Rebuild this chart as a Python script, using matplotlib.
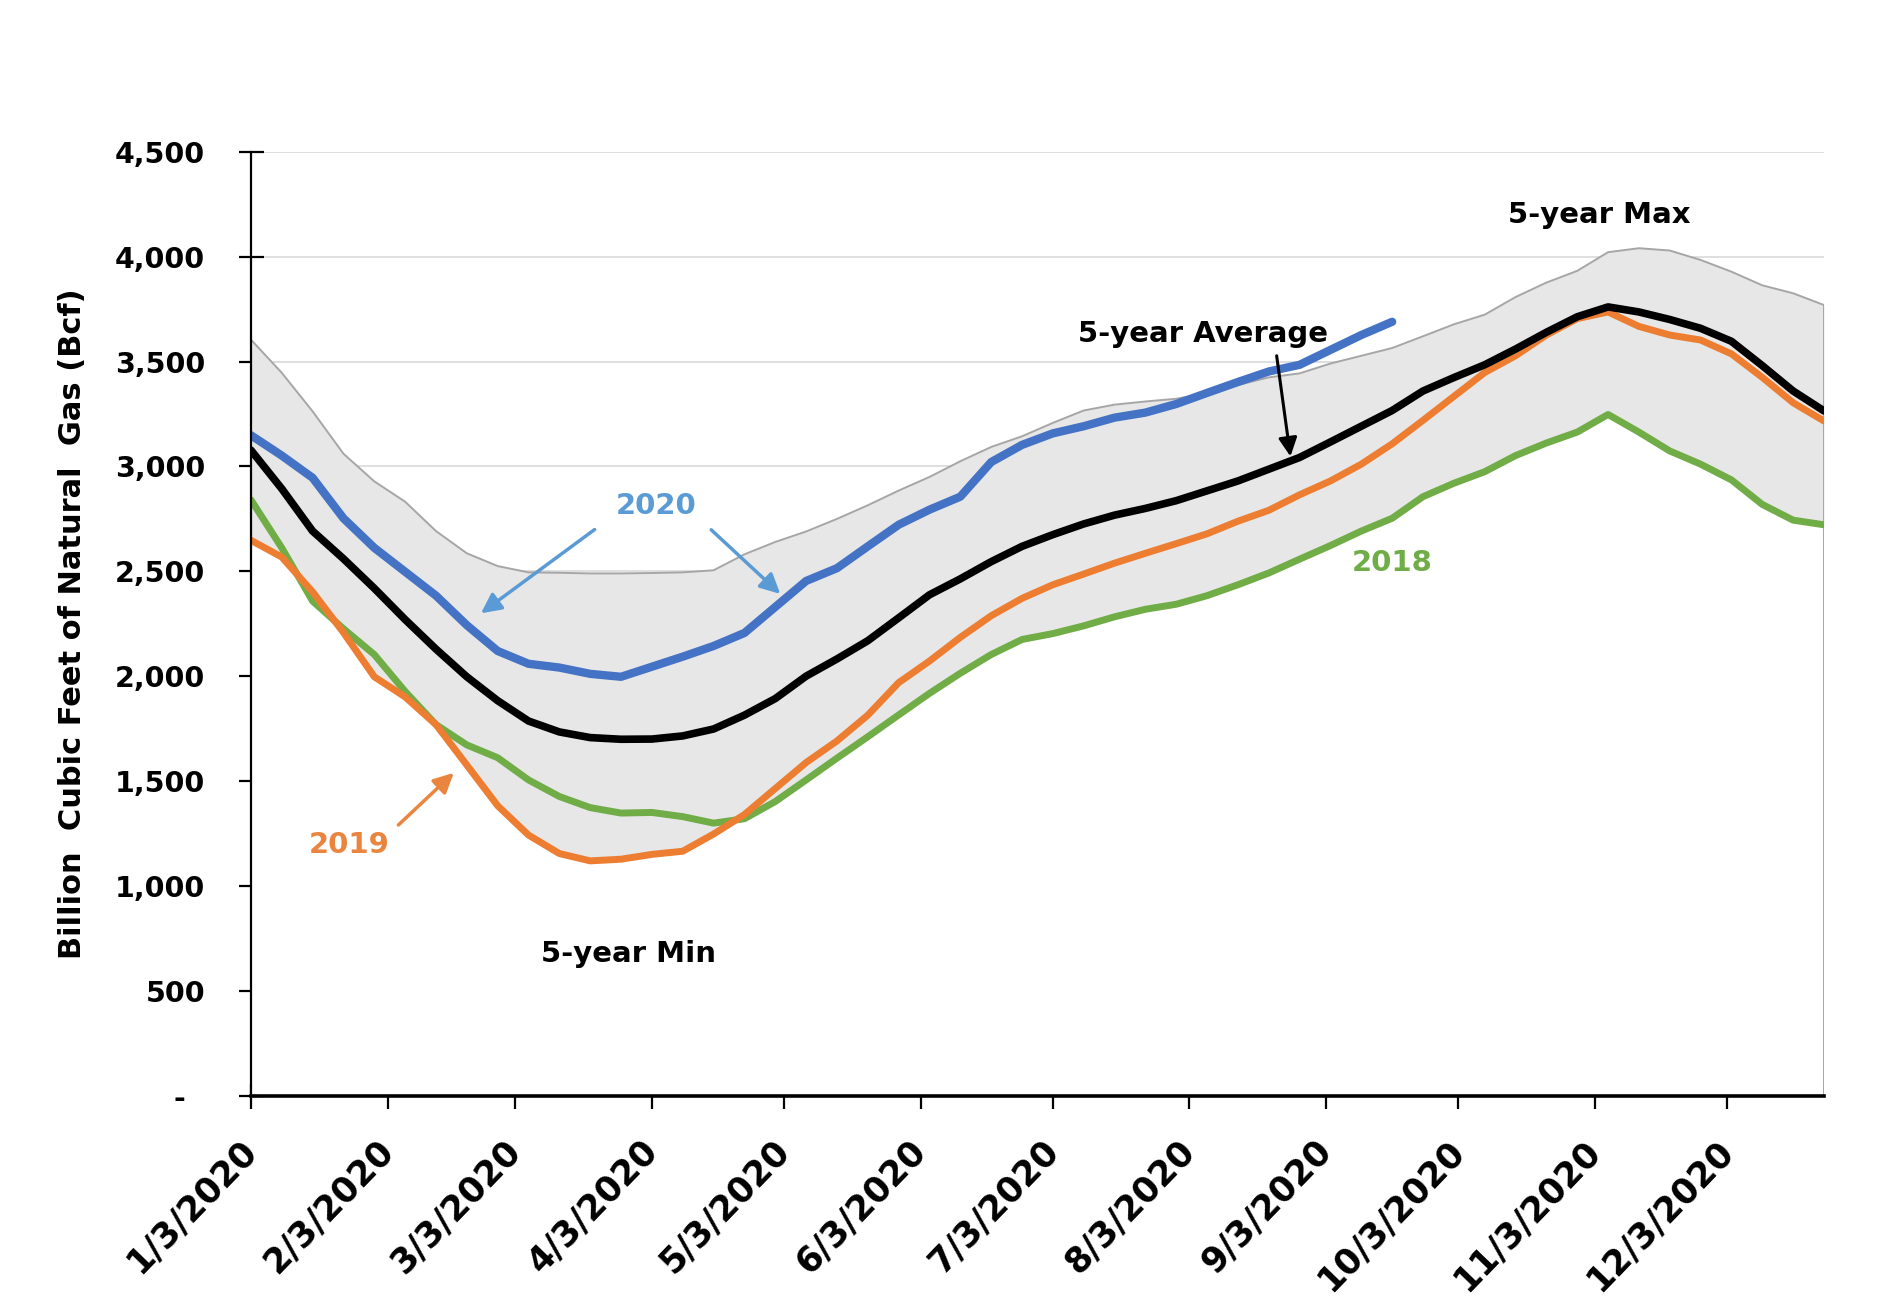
import matplotlib
matplotlib.use('Agg')

import numpy as np
import pandas as pd
import matplotlib.pyplot as plt
import matplotlib.dates as mdates
from matplotlib.ticker import FuncFormatter

# weekly storage, Bcf (week ending dates from 1/3/2020)
dates = pd.date_range('2020-01-03', periods=52, freq='7D')

max_5yr = [3605, 3447, 3263, 3061, 2929, 2832, 2692, 2586, 2525, 2495, 2493, 2490, 2490,
           2492, 2495, 2505, 2581, 2640, 2690, 2750, 2815, 2885, 2950, 3025, 3093, 3144,
           3208, 3267, 3295, 3310, 3323, 3351, 3388, 3425, 3444, 3491, 3528, 3565, 3621,
           3678, 3724, 3808, 3877, 3933, 4022, 4041, 4030, 3985, 3929, 3864, 3826, 3770]

min_5yr = [2648, 2568, 2358, 2208, 1997, 1901, 1769, 1576, 1382, 1242, 1154, 1119, 1127,
           1150, 1165, 1247, 1320, 1402, 1505, 1609, 1711, 1815, 1918, 2014, 2103, 2175,
           2203, 2240, 2283, 2319, 2343, 2384, 2436, 2492, 2558, 2623, 2692, 2753, 2856,
           2920, 2975, 3052, 3112, 3164, 3248, 3164, 3074, 3011, 2936, 2819, 2744, 2722]

avg_5yr = [3078, 2894, 2692, 2560, 2419, 2270, 2129, 1997, 1883, 1786, 1734, 1707, 1699,
           1700, 1715, 1748, 1814, 1893, 2000, 2082, 2169, 2278, 2388, 2464, 2546, 2619,
           2675, 2726, 2768, 2800, 2837, 2884, 2931, 2987, 3043, 3117, 3192, 3267, 3360,
           3424, 3485, 3560, 3640, 3714, 3761, 3737, 3701, 3659, 3597, 3481, 3360, 3265]

y2020 = [3149, 3052, 2946, 2753, 2612, 2498, 2384, 2243, 2120, 2059, 2041, 2011, 1997,
         2045, 2093, 2144, 2206, 2330, 2454, 2515, 2619, 2722, 2794, 2856, 3021, 3103,
         3158, 3192, 3233, 3257, 3298, 3351, 3403, 3453, 3485, 3556, 3627, 3690]

y2019 = [2648, 2568, 2402, 2208, 1997, 1901, 1769, 1576, 1382, 1242, 1154, 1119, 1127,
         1150, 1165, 1247, 1340, 1464, 1588, 1691, 1814, 1969, 2072, 2185, 2288, 2371,
         2436, 2487, 2539, 2586, 2632, 2679, 2739, 2791, 2865, 2931, 3011, 3108, 3220,
         3334, 3448, 3528, 3627, 3705, 3737, 3668, 3627, 3603, 3537, 3425, 3304, 3217]

y2018 = [2841, 2612, 2358, 2226, 2103, 1927, 1769, 1672, 1611, 1505, 1426, 1373, 1347,
         1350, 1330, 1299, 1320, 1402, 1505, 1609, 1711, 1815, 1918, 2014, 2103, 2175,
         2203, 2240, 2283, 2319, 2343, 2384, 2436, 2492, 2558, 2623, 2692, 2753, 2856,
         2920, 2975, 3052, 3112, 3164, 3248, 3164, 3074, 3011, 2936, 2819, 2744, 2722]

tick_dates = [pd.Timestamp(2020, m, 3) for m in range(1, 13)]
tick_labels = [f"{m}/3/2020" for m in range(1, 13)]
y_ticks = list(range(0, 5000, 500))

plt.rcParams['font.family'] = 'DejaVu Sans'
plt.rcParams['font.weight'] = 'bold'

fig = plt.figure(figsize=(18.98, 13.0), dpi=100, facecolor='white')
ax = fig.add_axes([0.1322, 0.1573, 0.8288, 0.7258])

# band: white under the min, gray between min and max
ax.fill_between(dates, 0, min_5yr, color='white', lw=0, zorder=1)
ax.fill_between(dates, min_5yr, max_5yr, color='#E7E7E7', lw=0, zorder=1)
ax.plot(dates, max_5yr, color='#A6A6A6', lw=1.4, zorder=2)
ax.plot([dates[-1], dates[-1]], [0, max_5yr[-1]], color='#A6A6A6', lw=1.4, zorder=2)

ax.plot(dates, y2018, color='#70AD47', lw=5, zorder=3, solid_joinstyle='round', solid_capstyle='round')
ax.plot(dates, y2019, color='#ED7D31', lw=5, zorder=3, solid_joinstyle='round', solid_capstyle='round')
ax.plot(dates, avg_5yr, color='black', lw=5.5, zorder=4, solid_joinstyle='round', solid_capstyle='round')
ax.plot(dates[:len(y2020)], y2020, color='#4472C4', lw=6, zorder=4, solid_joinstyle='round',
        solid_capstyle='round')

ax.set_xlim(dates[0], dates[-1])
ax.set_ylim(0, 4500)
ax.set_yticks(y_ticks)
ax.yaxis.set_major_formatter(FuncFormatter(lambda v, p: "-  " if v == 0 else f"{int(v):,}"))
ax.set_xticks(tick_dates)
ax.set_xticklabels(tick_labels, rotation=46, ha='right', va='center', rotation_mode='anchor')

ax.yaxis.grid(True, color='#D9D9D9', lw=1.2, zorder=0)
ax.set_axisbelow(True)
for s in ['top', 'right']:
    ax.spines[s].set_visible(False)
ax.spines['left'].set_linewidth(1.6)
ax.spines['bottom'].set_linewidth(2.6)
ax.spines['left'].set_zorder(5)
ax.spines['bottom'].set_zorder(5)

ax.tick_params(axis='y', direction='inout', length=18, width=1.6, labelsize=20.5, pad=24)
ax.tick_params(axis='x', direction='inout', length=18, width=1.6, labelsize=25, pad=27)

ax.set_ylabel("Billion  Cubic Feet of Natural  Gas (Bcf)", fontsize=22, fontweight='bold')
ax.yaxis.set_label_coords(-0.104, 0.5)

# annotations
blue_txt = '#5B9BD5'
orange_txt = '#E9853F'
green_txt = '#70AD47'
d = lambda n: dates[0] + pd.Timedelta(days=n)

ax.text(d(306), 4199, "5-year Max", fontsize=21, ha='center', va='center', zorder=6)
ax.text(d(216), 3632, "5-year Average", fontsize=21, ha='center', va='center', zorder=6)
ax.annotate('', xy=(d(236), 3035), xytext=(d(232.7), 3541),
            arrowprops=dict(arrowstyle='-|>', color='black', lw=2.2, mutation_scale=28), zorder=6)

ax.text(d(92), 2812, "2020", fontsize=21, color=blue_txt, ha='center', va='center', zorder=6)
ax.annotate('', xy=(d(51.7), 2292), xytext=(d(78.5), 2707),
            arrowprops=dict(arrowstyle='-|>', color=blue_txt, lw=2.5, mutation_scale=30), zorder=6)
ax.annotate('', xy=(d(120.6), 2383), xytext=(d(104), 2707),
            arrowprops=dict(arrowstyle='-|>', color=blue_txt, lw=2.5, mutation_scale=30), zorder=6)

ax.text(d(22.4), 1195, "2019", fontsize=21, color=orange_txt, ha='center', va='center', zorder=6)
ax.annotate('', xy=(d(46.5), 1548), xytext=(d(33), 1281),
            arrowprops=dict(arrowstyle='-|>', color=orange_txt, lw=2.5, mutation_scale=30), zorder=6)

ax.text(d(259), 2540, "2018", fontsize=21, color=green_txt, ha='center', va='center', zorder=6)
ax.text(d(85.6), 675, "5-year Min", fontsize=21, ha='center', va='center', zorder=6)

fig.savefig('out.png', dpi=100, facecolor='white')
